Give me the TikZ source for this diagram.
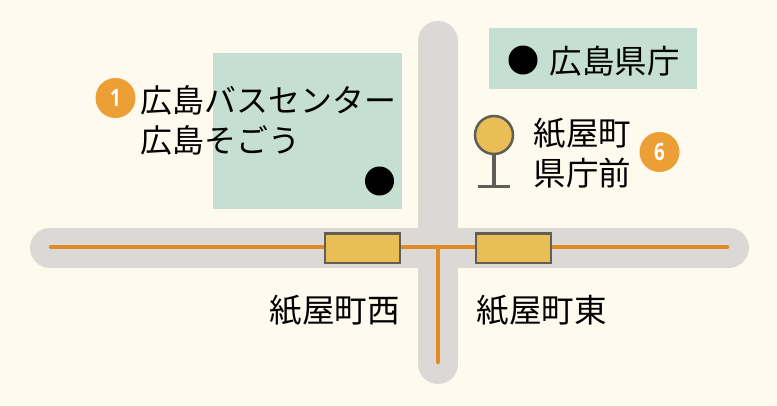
\documentclass[tikz,border=0pt]{standalone}
\usepackage{fontspec}
\setmainfont{Noto Sans CJK JP}
\newfontfamily\numfont[FakeStretch=0.78]{Open Sans}
\usetikzlibrary{positioning}
\definecolor{paper}{HTML}{FEFAEE}
\definecolor{road}{HTML}{DCD8D5}
\definecolor{rail}{HTML}{E08C24}
\definecolor{block}{HTML}{C5DFD2}
\definecolor{stop}{HTML}{E9BF55}
\definecolor{edge}{HTML}{5F5F57}
\definecolor{badge}{HTML}{EC9F34}
\tikzset{
  place/.style={inner sep=0pt,font=\fontsize{32.5}{40}\selectfont,align=left},
  badgenum/.style={circle,fill=badge,text=white,minimum size=40pt,inner sep=0pt,font=\numfont\fontsize{24}{24}\selectfont\bfseries},
  dot/.style={circle,fill=black,minimum size=29pt,inner sep=0pt},
  platform/.style={draw=edge,fill=stop,line width=2.5pt,minimum width=75pt,minimum height=29.5pt,inner sep=0pt}
}
\begin{document}
\begin{tikzpicture}[x=1pt,y=-1pt]
        \fill[paper] (0,0) rectangle (777,405);
        \useasboundingbox (0,0) rectangle (777,405);
        % blocks
        \fill[block] (213,52.5) rectangle (401.5,209);
        \fill[block] (489,28) rectangle (696.5,89);
        % roads
        \draw[road,line width=40pt,line cap=round] (50,247.5) -- (729,247.5);
        \draw[road,line width=40pt,line cap=round] (438,41) -- (438,364);
        % tram line
        \draw[rail,line width=4.5pt,line cap=round] (51,247) -- (727,247);
        \draw[rail,line width=4.5pt,line cap=round] (438,247) -- (438,362);
        \node[platform] (west) at (362.5,248) {};
        \node[platform] (east) at (513.5,248) {};
        % bus stop
        \node[circle,draw=edge,fill=stop,line width=2.5pt,minimum size=38pt,inner sep=0pt] (pole) at (494,135) {};
        \coordinate (poleend) at (494,186.5);
        \draw[edge,line width=3.5pt] (pole.south) -- (poleend);
        \draw[edge,line width=3.5pt] ([xshift=-16pt]poleend) -- ([xshift=16pt]poleend);
        % labels
        \node[dot] (sogo) at (379.5,181) {};
        \node[dot] (pref) at (523,60) {};
        \node[place,anchor=west] (preflabel) at (549.5,61) {広島県庁};
        \node[badgenum] (one) at (115.5,98) {1};
        \node[place,anchor=west,font=\fontsize{31.9}{40}\selectfont] (center) at (140.5,120) {広島バスセンター\\広島そごう};
        \node[place,anchor=west] (stoplabel) at (533.5,153) {紙屋町\\県庁前};
        \node[badgenum] (six) at (659.5,152) {6};
        \node[place,anchor=west] (westlabel) at (269.5,310) {紙屋町西};
        \node[place,anchor=west] (eastlabel) at (476.5,310) {紙屋町東};
\end{tikzpicture}
\end{document}
